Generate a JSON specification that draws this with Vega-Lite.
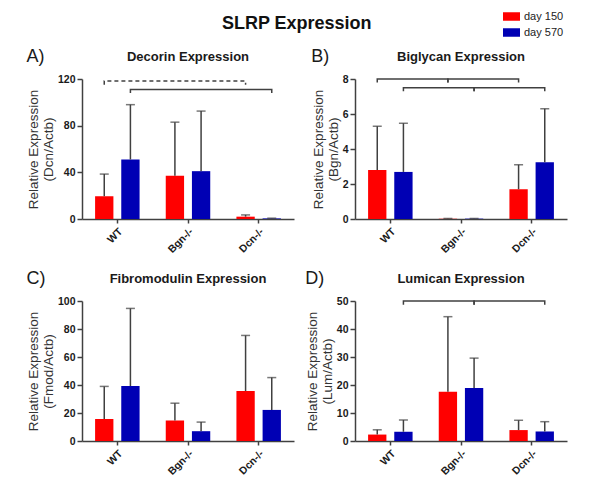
{
  "$schema": "https://vega.github.io/schema/vega-lite/v6.json",
  "padding": {"left": 26, "top": 8, "right": 5, "bottom": 5},
  "title": {"text": "SLRP Expression", "fontSize": 18, "fontWeight": "bold", "color": "#111", "anchor": "middle", "frame": "bounds", "offset": 0, "dy": 25},
  "datasets": {
    "bars": [
      {"p": "A", "g": "WT", "day": "day 150", "v": 19.5, "hi": 38.5},
      {"p": "A", "g": "WT", "day": "day 570", "v": 51, "hi": 98},
      {"p": "A", "g": "Bgn-/-", "day": "day 150", "v": 37, "hi": 83},
      {"p": "A", "g": "Bgn-/-", "day": "day 570", "v": 41, "hi": 92.5},
      {"p": "A", "g": "Dcn-/-", "day": "day 150", "v": 2, "hi": 3.5},
      {"p": "A", "g": "Dcn-/-", "day": "day 570", "v": 0.5, "hi": 0.7},
      {"p": "B", "g": "WT", "day": "day 150", "v": 2.8, "hi": 5.3},
      {"p": "B", "g": "WT", "day": "day 570", "v": 2.69, "hi": 5.47},
      {"p": "B", "g": "Bgn-/-", "day": "day 150", "v": 0.02, "hi": 0.03},
      {"p": "B", "g": "Bgn-/-", "day": "day 570", "v": 0.02, "hi": 0.03},
      {"p": "B", "g": "Dcn-/-", "day": "day 150", "v": 1.7, "hi": 3.1},
      {"p": "B", "g": "Dcn-/-", "day": "day 570", "v": 3.24, "hi": 6.3},
      {"p": "C", "g": "WT", "day": "day 150", "v": 15.7, "hi": 39},
      {"p": "C", "g": "WT", "day": "day 570", "v": 39.3, "hi": 94.7},
      {"p": "C", "g": "Bgn-/-", "day": "day 150", "v": 14.7, "hi": 27},
      {"p": "C", "g": "Bgn-/-", "day": "day 570", "v": 7, "hi": 13.5},
      {"p": "C", "g": "Dcn-/-", "day": "day 150", "v": 35.7, "hi": 75.4},
      {"p": "C", "g": "Dcn-/-", "day": "day 570", "v": 22.2, "hi": 45.3},
      {"p": "D", "g": "WT", "day": "day 150", "v": 2.3, "hi": 4},
      {"p": "D", "g": "WT", "day": "day 570", "v": 3.3, "hi": 7.5},
      {"p": "D", "g": "Bgn-/-", "day": "day 150", "v": 17.6, "hi": 44.4},
      {"p": "D", "g": "Bgn-/-", "day": "day 570", "v": 18.9, "hi": 29.6},
      {"p": "D", "g": "Dcn-/-", "day": "day 150", "v": 3.9, "hi": 7.4},
      {"p": "D", "g": "Dcn-/-", "day": "day 570", "v": 3.4, "hi": 6.9}
    ],
    "br": [
      {"p": "A", "id": "A1", "dash": 1, "o": 1, "g": "WT", "day": "day 150", "v": 115},
      {"p": "A", "id": "A1", "dash": 1, "o": 2, "g": "WT", "day": "day 150", "v": 118.3},
      {"p": "A", "id": "A1", "dash": 1, "o": 3, "g": "Dcn-/-", "day": "day 150", "v": 118.3},
      {"p": "A", "id": "A1", "dash": 1, "o": 4, "g": "Dcn-/-", "day": "day 150", "v": 115},
      {"p": "A", "id": "A2", "dash": 0, "o": 1, "g": "WT", "day": "day 570", "v": 108},
      {"p": "A", "id": "A2", "dash": 0, "o": 2, "g": "WT", "day": "day 570", "v": 111},
      {"p": "A", "id": "A2", "dash": 0, "o": 3, "g": "Dcn-/-", "day": "day 570", "v": 111},
      {"p": "A", "id": "A2", "dash": 0, "o": 4, "g": "Dcn-/-", "day": "day 570", "v": 108},
      {"p": "B", "id": "B1", "dash": 0, "o": 1, "g": "WT", "day": "day 150", "v": 7.8},
      {"p": "B", "id": "B1", "dash": 0, "o": 2, "g": "WT", "day": "day 150", "v": 8.0},
      {"p": "B", "id": "B1", "dash": 0, "o": 3, "g": "Bgn-/-", "day": "day 150", "v": 8.0},
      {"p": "B", "id": "B1", "dash": 0, "o": 4, "g": "Bgn-/-", "day": "day 150", "v": 7.8},
      {"p": "B", "id": "B2", "dash": 0, "o": 1, "g": "Bgn-/-", "day": "day 150", "v": 7.8},
      {"p": "B", "id": "B2", "dash": 0, "o": 2, "g": "Bgn-/-", "day": "day 150", "v": 8.0},
      {"p": "B", "id": "B2", "dash": 0, "o": 3, "g": "Dcn-/-", "day": "day 150", "v": 8.0},
      {"p": "B", "id": "B2", "dash": 0, "o": 4, "g": "Dcn-/-", "day": "day 150", "v": 7.8},
      {"p": "B", "id": "B3", "dash": 0, "o": 1, "g": "WT", "day": "day 570", "v": 7.3},
      {"p": "B", "id": "B3", "dash": 0, "o": 2, "g": "WT", "day": "day 570", "v": 7.5},
      {"p": "B", "id": "B3", "dash": 0, "o": 3, "g": "Bgn-/-", "day": "day 570", "v": 7.5},
      {"p": "B", "id": "B3", "dash": 0, "o": 4, "g": "Bgn-/-", "day": "day 570", "v": 7.3},
      {"p": "B", "id": "B4", "dash": 0, "o": 1, "g": "Bgn-/-", "day": "day 570", "v": 7.3},
      {"p": "B", "id": "B4", "dash": 0, "o": 2, "g": "Bgn-/-", "day": "day 570", "v": 7.5},
      {"p": "B", "id": "B4", "dash": 0, "o": 3, "g": "Dcn-/-", "day": "day 570", "v": 7.5},
      {"p": "B", "id": "B4", "dash": 0, "o": 4, "g": "Dcn-/-", "day": "day 570", "v": 7.3},
      {"p": "D", "id": "D1", "dash": 0, "o": 1, "g": "WT", "day": "day 570", "v": 48.7},
      {"p": "D", "id": "D1", "dash": 0, "o": 2, "g": "WT", "day": "day 570", "v": 50},
      {"p": "D", "id": "D1", "dash": 0, "o": 3, "g": "Bgn-/-", "day": "day 570", "v": 50},
      {"p": "D", "id": "D1", "dash": 0, "o": 4, "g": "Bgn-/-", "day": "day 570", "v": 48.7},
      {"p": "D", "id": "D2", "dash": 0, "o": 1, "g": "Bgn-/-", "day": "day 570", "v": 48.7},
      {"p": "D", "id": "D2", "dash": 0, "o": 2, "g": "Bgn-/-", "day": "day 570", "v": 50},
      {"p": "D", "id": "D2", "dash": 0, "o": 3, "g": "Dcn-/-", "day": "day 570", "v": 50},
      {"p": "D", "id": "D2", "dash": 0, "o": 4, "g": "Dcn-/-", "day": "day 570", "v": 48.7}
    ]
  },
  "columns": 2,
  "align": "each",
  "spacing": {"row": 15, "column": 11},
  "resolve": {"scale": {"color": "shared"}, "legend": {"color": "shared"}},
  "concat": [
    {
      "title": {"text": "A)", "anchor": "start", "frame": "bounds", "fontSize": 18, "fontWeight": "normal", "offset": 0, "dy": 15},
      "vconcat": [
        {
          "title": {"text": "Decorin Expression", "offset": 10},
          "width": 212, "height": 140,
          "encoding": {
            "x": {"field": "g", "type": "nominal", "sort": ["WT", "Bgn-/-", "Dcn-/-"], "scale": {"type": "band", "paddingInner": 0, "paddingOuter": 0}, "title": null},
            "xOffset": {"field": "day", "type": "nominal", "sort": ["day 150", "day 570"], "scale": {"paddingInner": 0.3, "paddingOuter": 0.5}},
            "y": {"field": "v", "type": "quantitative", "scale": {"domain": [0, 120], "nice": false}, "axis": {"values": [0, 40, 80, 120]}, "title": ["Relative Expression", "(Dcn/Actb)"]}
          },
          "layer": [
            {"data": {"name": "bars"}, "transform": [{"filter": "datum.p == 'A'"}], "mark": "bar",
             "encoding": {"color": {"field": "day", "type": "nominal", "scale": {"domain": ["day 150", "day 570"], "range": ["#FF0000", "#0000B4"]},
               "legend": {"orient": "none", "legendX": 421, "legendY": -71, "title": null, "symbolType": "M-1,-0.5H1V0.5H-1Z", "symbolSize": 289, "symbolStrokeWidth": 0, "labelFontSize": 11, "labelColor": "#222", "rowPadding": 2}}}},
            {"data": {"name": "bars"}, "transform": [{"filter": "datum.p == 'A'"}], "mark": {"type": "rule", "color": "#404040", "strokeWidth": 1.5},
             "encoding": {"y2": {"field": "hi"}}},
            {"data": {"name": "bars"}, "transform": [{"filter": "datum.p == 'A'"}], "mark": {"type": "tick", "color": "#404040", "thickness": 1.5, "size": 9},
             "encoding": {"y": {"field": "hi", "type": "quantitative", "title": ["Relative Expression", "(Dcn/Actb)"]}}},
            {"data": {"name": "br"}, "transform": [{"filter": "datum.p == 'A' && datum.dash == 0"}], "mark": {"type": "line", "color": "#404040", "strokeWidth": 1.5},
             "encoding": {"detail": {"field": "id"}, "order": {"field": "o"}}},
            {"data": {"name": "br"}, "transform": [{"filter": "datum.p == 'A' && datum.dash == 1"}], "mark": {"type": "line", "color": "#404040", "strokeWidth": 1.5, "strokeDash": [4, 3]},
             "encoding": {"detail": {"field": "id"}, "order": {"field": "o"}}}
          ]
        }
      ]
    },
    {
      "title": {"text": "B)", "anchor": "start", "frame": "bounds", "fontSize": 18, "fontWeight": "normal", "offset": 0, "dy": 15},
      "vconcat": [
        {
          "title": {"text": "Biglycan Expression", "offset": 10},
          "width": 212, "height": 140,
          "encoding": {
            "x": {"field": "g", "type": "nominal", "sort": ["WT", "Bgn-/-", "Dcn-/-"], "scale": {"type": "band", "paddingInner": 0, "paddingOuter": 0}, "title": null},
            "xOffset": {"field": "day", "type": "nominal", "sort": ["day 150", "day 570"], "scale": {"paddingInner": 0.3, "paddingOuter": 0.5}},
            "y": {"field": "v", "type": "quantitative", "scale": {"domain": [0, 8], "nice": false}, "axis": {"values": [0, 2, 4, 6, 8]}, "title": ["Relative Expression", "(Bgn/Actb)"]}
          },
          "layer": [
            {"data": {"name": "bars"}, "transform": [{"filter": "datum.p == 'B'"}], "mark": "bar",
             "encoding": {"color": {"field": "day", "type": "nominal", "scale": {"domain": ["day 150", "day 570"], "range": ["#FF0000", "#0000B4"]}}}},
            {"data": {"name": "bars"}, "transform": [{"filter": "datum.p == 'B'"}], "mark": {"type": "rule", "color": "#404040", "strokeWidth": 1.5},
             "encoding": {"y2": {"field": "hi"}}},
            {"data": {"name": "bars"}, "transform": [{"filter": "datum.p == 'B'"}], "mark": {"type": "tick", "color": "#404040", "thickness": 1.5, "size": 9},
             "encoding": {"y": {"field": "hi", "type": "quantitative", "title": ["Relative Expression", "(Bgn/Actb)"]}}},
            {"data": {"name": "br"}, "transform": [{"filter": "datum.p == 'B'"}], "mark": {"type": "line", "color": "#404040", "strokeWidth": 1.5},
             "encoding": {"detail": {"field": "id"}, "order": {"field": "o"}}}
          ]
        }
      ]
    },
    {
      "title": {"text": "C)", "anchor": "start", "frame": "bounds", "fontSize": 18, "fontWeight": "normal", "offset": 0, "dy": 15},
      "vconcat": [
        {
          "title": {"text": "Fibromodulin Expression", "offset": 10},
          "width": 212, "height": 140,
          "encoding": {
            "x": {"field": "g", "type": "nominal", "sort": ["WT", "Bgn-/-", "Dcn-/-"], "scale": {"type": "band", "paddingInner": 0, "paddingOuter": 0}, "title": null},
            "xOffset": {"field": "day", "type": "nominal", "sort": ["day 150", "day 570"], "scale": {"paddingInner": 0.3, "paddingOuter": 0.5}},
            "y": {"field": "v", "type": "quantitative", "scale": {"domain": [0, 100], "nice": false}, "axis": {"values": [0, 20, 40, 60, 80, 100]}, "title": ["Relative Expression", "(Fmod/Actb)"]}
          },
          "layer": [
            {"data": {"name": "bars"}, "transform": [{"filter": "datum.p == 'C'"}], "mark": "bar",
             "encoding": {"color": {"field": "day", "type": "nominal", "scale": {"domain": ["day 150", "day 570"], "range": ["#FF0000", "#0000B4"]}}}},
            {"data": {"name": "bars"}, "transform": [{"filter": "datum.p == 'C'"}], "mark": {"type": "rule", "color": "#404040", "strokeWidth": 1.5},
             "encoding": {"y2": {"field": "hi"}}},
            {"data": {"name": "bars"}, "transform": [{"filter": "datum.p == 'C'"}], "mark": {"type": "tick", "color": "#404040", "thickness": 1.5, "size": 9},
             "encoding": {"y": {"field": "hi", "type": "quantitative", "title": ["Relative Expression", "(Fmod/Actb)"]}}}
          ]
        }
      ]
    },
    {
      "title": {"text": "D)", "anchor": "start", "frame": "bounds", "fontSize": 18, "fontWeight": "normal", "offset": 0, "dy": 15},
      "vconcat": [
        {
          "title": {"text": "Lumican Expression", "offset": 10},
          "width": 212, "height": 140,
          "encoding": {
            "x": {"field": "g", "type": "nominal", "sort": ["WT", "Bgn-/-", "Dcn-/-"], "scale": {"type": "band", "paddingInner": 0, "paddingOuter": 0}, "title": null},
            "xOffset": {"field": "day", "type": "nominal", "sort": ["day 150", "day 570"], "scale": {"paddingInner": 0.3, "paddingOuter": 0.5}},
            "y": {"field": "v", "type": "quantitative", "scale": {"domain": [0, 50], "nice": false}, "axis": {"values": [0, 10, 20, 30, 40, 50]}, "title": ["Relative Expression", "(Lum/Actb)"]}
          },
          "layer": [
            {"data": {"name": "bars"}, "transform": [{"filter": "datum.p == 'D'"}], "mark": "bar",
             "encoding": {"color": {"field": "day", "type": "nominal", "scale": {"domain": ["day 150", "day 570"], "range": ["#FF0000", "#0000B4"]}}}},
            {"data": {"name": "bars"}, "transform": [{"filter": "datum.p == 'D'"}], "mark": {"type": "rule", "color": "#404040", "strokeWidth": 1.5},
             "encoding": {"y2": {"field": "hi"}}},
            {"data": {"name": "bars"}, "transform": [{"filter": "datum.p == 'D'"}], "mark": {"type": "tick", "color": "#404040", "thickness": 1.5, "size": 9},
             "encoding": {"y": {"field": "hi", "type": "quantitative", "title": ["Relative Expression", "(Lum/Actb)"]}}},
            {"data": {"name": "br"}, "transform": [{"filter": "datum.p == 'D'"}], "mark": {"type": "line", "color": "#404040", "strokeWidth": 1.5},
             "encoding": {"detail": {"field": "id"}, "order": {"field": "o"}}}
          ]
        }
      ]
    }
  ],
  "config": {
    "font": "Liberation Sans",
    "view": {"stroke": null},
    "axis": {"grid": false, "domainColor": "#404040", "domainWidth": 1.5, "tickColor": "#404040", "tickWidth": 1.5, "labelFontWeight": "bold", "labelFontSize": 10.5, "labelColor": "#1a1a1a", "titleFontWeight": "normal", "titleFontSize": 13.5, "titleColor": "#333"},
    "axisY": {"tickSize": 5, "titlePadding": 2, "labelPadding": 2, "titleLineHeight": 15},
    "axisX": {"tickSize": 4, "labelAngle": -45, "labelPadding": 3},
    "title": {"fontSize": 13, "fontWeight": "bold", "color": "#1a1a1a"}
  }
}
